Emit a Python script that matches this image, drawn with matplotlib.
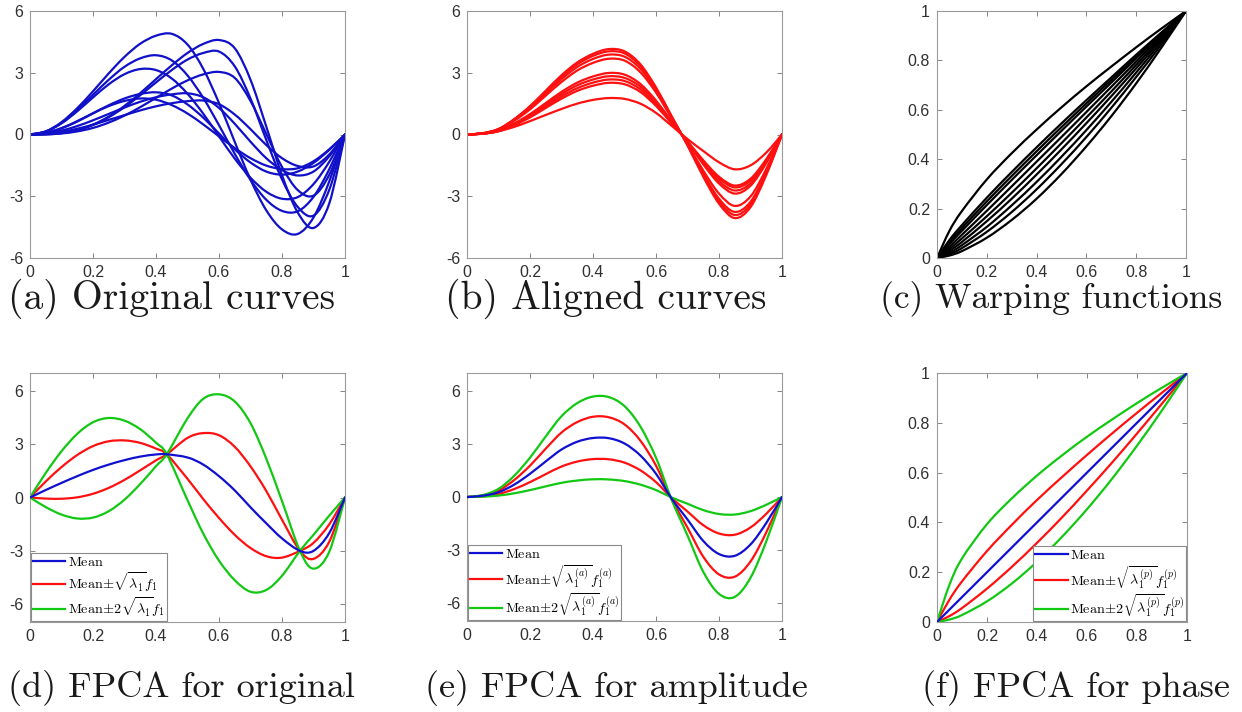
import matplotlib
matplotlib.use("Agg")
import matplotlib.pyplot as plt
from matplotlib.path import Path
from matplotlib.patches import PathPatch

plt.rcParams['mathtext.fontset'] = 'cm'
plt.rcParams['font.family'] = ['Liberation Sans', 'DejaVu Sans']

# ---------------- data ----------------
T21 = [0.00, 0.05, 0.10, 0.15, 0.20, 0.25, 0.30, 0.35, 0.40, 0.45, 0.50,
       0.55, 0.60, 0.65, 0.70, 0.75, 0.80, 0.85, 0.90, 0.95, 1.00]
T12 = [0.0, 0.05, 0.1, 0.2, 0.3, 0.4, 0.5, 0.6, 0.7, 0.8, 0.9, 1.0]
TD = [0.00, 0.05, 0.10, 0.15, 0.20, 0.25, 0.30, 0.35, 0.40, 0.434, 0.50,
      0.55, 0.60, 0.65, 0.70, 0.75, 0.80, 0.857, 0.90, 0.95, 1.00]

# (a) original curves
orig_curves = [
    [0, 0.15, 0.60, 1.28, 2.10, 2.97, 3.77, 4.41, 4.80, 4.89, 4.37, 3.19, 1.53, -0.36, -2.19, -3.68, -4.61, -4.83, -4.03, -2.28, 0],
    [0, 0.15, 0.56, 1.19, 1.93, 2.66, 3.29, 3.70, 3.85, 3.60, 2.87, 1.78, 0.45, -0.94, -2.20, -3.17, -3.71, -3.73, -3.03, -1.69, 0],
    [0, 0.14, 0.54, 1.13, 1.80, 2.44, 2.93, 3.18, 3.13, 2.72, 1.98, 1.01, -0.09, -1.17, -2.10, -2.78, -3.12, -3.04, -2.41, -1.33, 0],
    [0, 0.01, 0.07, 0.22, 0.48, 0.87, 1.39, 2.01, 2.69, 3.36, 3.96, 4.40, 4.59, 4.19, 2.66, 0.39, -1.98, -3.79, -4.54, -3.35, 0],
    [0, 0.01, 0.07, 0.21, 0.46, 0.84, 1.33, 1.91, 2.53, 3.13, 3.64, 3.96, 4.03, 3.31, 1.75, -0.26, -2.18, -3.52, -3.94, -2.69, 0],
    [0, 0.01, 0.05, 0.15, 0.32, 0.58, 0.92, 1.33, 1.78, 2.23, 2.63, 2.92, 3.04, 2.75, 1.63, 0.03, -1.58, -2.70, -2.97, -1.96, 0],
    [0, 0.08, 0.30, 0.63, 1.03, 1.42, 1.75, 1.97, 2.05, 1.90, 1.46, 0.82, 0.05, -0.72, -1.36, -1.80, -1.95, -1.80, -1.38, -0.75, 0],
    [0, 0.05, 0.19, 0.41, 0.69, 1.00, 1.31, 1.59, 1.81, 1.95, 2.00, 1.81, 1.29, 0.52, -0.35, -1.15, -1.73, -1.99, -1.80, -1.06, 0],
    [0, 0.03, 0.13, 0.28, 0.48, 0.71, 0.94, 1.17, 1.37, 1.52, 1.62, 1.65, 1.47, 0.97, 0.26, -0.51, -1.15, -1.53, -1.55, -0.97, 0],
    [0, 0.08, 0.31, 0.65, 1.03, 1.38, 1.63, 1.75, 1.69, 1.43, 1.02, 0.49, -0.09, -0.66, -1.15, -1.51, -1.68, -1.64, -1.30, -0.72, 0],
]

# (b) aligned curves
aligned_curves = [
    [0, 0.06, 0.27, 0.75, 1.38, 2.13, 2.88, 3.50, 3.92, 4.15, 4.04, 3.42, 2.29, 0.88, -0.53, -2.05, -3.36, -4.06, -3.53, -1.97, 0],
    [0, 0.06, 0.26, 0.73, 1.34, 2.07, 2.80, 3.41, 3.82, 4.04, 3.94, 3.33, 2.23, 0.85, -0.51, -1.98, -3.24, -3.91, -3.40, -1.90, 0],
    [0, 0.06, 0.25, 0.70, 1.29, 1.99, 2.69, 3.28, 3.67, 3.88, 3.78, 3.20, 2.15, 0.82, -0.49, -1.90, -3.12, -3.76, -3.27, -1.82, 0],
    [0, 0.06, 0.24, 0.67, 1.22, 1.89, 2.55, 3.11, 3.48, 3.68, 3.59, 3.03, 2.04, 0.78, -0.46, -1.75, -2.87, -3.47, -3.01, -1.68, 0],
    [0, 0.05, 0.20, 0.54, 0.99, 1.53, 2.07, 2.52, 2.82, 2.99, 2.91, 2.46, 1.65, 0.63, -0.38, -1.45, -2.38, -2.87, -2.49, -1.39, 0],
    [0, 0.04, 0.18, 0.51, 0.94, 1.45, 1.96, 2.39, 2.67, 2.83, 2.75, 2.33, 1.56, 0.60, -0.36, -1.38, -2.26, -2.72, -2.37, -1.32, 0],
    [0, 0.04, 0.17, 0.48, 0.88, 1.37, 1.85, 2.25, 2.52, 2.67, 2.60, 2.20, 1.47, 0.56, -0.34, -1.30, -2.13, -2.57, -2.24, -1.25, 0],
    [0, 0.04, 0.16, 0.45, 0.83, 1.29, 1.74, 2.12, 2.37, 2.51, 2.44, 2.07, 1.39, 0.53, -0.33, -1.25, -2.05, -2.48, -2.15, -1.20, 0],
    [0, 0.04, 0.16, 0.37, 0.65, 0.95, 1.24, 1.50, 1.68, 1.77, 1.73, 1.50, 1.05, 0.42, -0.22, -0.80, -1.35, -1.69, -1.50, -0.88, 0],
]

# (c) warping functions
warp_curves = [
    [0, 0.110, 0.190, 0.318, 0.424, 0.520, 0.610, 0.695, 0.775, 0.853, 0.928, 1],
    [0, 0.073, 0.133, 0.244, 0.348, 0.448, 0.545, 0.639, 0.731, 0.823, 0.912, 1],
    [0, 0.064, 0.121, 0.229, 0.332, 0.432, 0.530, 0.626, 0.721, 0.815, 0.908, 1],
    [0, 0.057, 0.110, 0.214, 0.316, 0.416, 0.515, 0.613, 0.710, 0.808, 0.904, 1],
    [0, 0.046, 0.094, 0.191, 0.290, 0.390, 0.490, 0.591, 0.693, 0.795, 0.898, 1],
    [0, 0.037, 0.079, 0.169, 0.264, 0.363, 0.465, 0.569, 0.674, 0.782, 0.890, 1],
    [0, 0.029, 0.065, 0.149, 0.240, 0.338, 0.440, 0.546, 0.655, 0.768, 0.883, 1],
    [0, 0.021, 0.052, 0.126, 0.213, 0.308, 0.410, 0.518, 0.632, 0.751, 0.874, 1],
    [0, 0.015, 0.040, 0.106, 0.186, 0.278, 0.380, 0.490, 0.608, 0.733, 0.863, 1],
    [0, 0.010, 0.028, 0.082, 0.154, 0.240, 0.340, 0.452, 0.574, 0.707, 0.850, 1],
]

# (d) FPCA original
d_mean = [0, 0.42, 0.82, 1.20, 1.55, 1.85, 2.10, 2.30, 2.42, 2.43, 2.25, 1.85, 1.20, 0.40, -0.55, -1.45, -2.30, -3.00, -3.00, -2.00, 0]
d_red_a = [0, 0.90, 1.71, 2.39, 2.89, 3.16, 3.21, 3.07, 2.75, 2.43, 1.05, -0.09, -1.15, -2.10, -2.84, -3.30, -3.38, -3.00, -2.55, -1.51, 0]
d_red_b = [0, -0.06, -0.07, 0.01, 0.21, 0.54, 0.99, 1.53, 2.09, 2.43, 3.35, 3.62, 3.50, 2.85, 1.75, 0.37, -1.25, -3.00, -3.45, -2.49, 0]
d_green_a = [0, 1.38, 2.60, 3.58, 4.23, 4.47, 4.32, 3.84, 3.08, 2.43, -0.15, -2.03, -3.55, -4.65, -5.30, -5.20, -4.40, -3.00, -2.10, -1.02, 0]
d_green_b = [0, -0.54, -0.96, -1.18, -1.13, -0.77, -0.12, 0.76, 1.76, 2.43, 4.45, 5.55, 5.80, 5.40, 4.18, 2.19, -0.20, -3.00, -4.00, -3.05, 0]

# (e) FPCA amplitude
e_mean = [0, 0.07, 0.27, 0.70, 1.31, 2.01, 2.68, 3.12, 3.33, 3.32, 3.02, 2.35, 1.31, -0.10, -1.27, -2.48, -3.22, -3.32, -2.68, -1.47, 0]
e_red_hi = [0, 0.09, 0.36, 0.96, 1.77, 2.73, 3.64, 4.23, 4.53, 4.50, 4.10, 3.19, 1.77, -0.14, -1.73, -3.37, -4.37, -4.50, -3.64, -2.00, 0]
e_red_lo = [0, 0.04, 0.17, 0.45, 0.84, 1.29, 1.72, 2.00, 2.14, 2.13, 1.94, 1.51, 0.84, -0.06, -0.82, -1.59, -2.06, -2.13, -1.72, -0.95, 0]
e_green_hi = [0, 0.11, 0.46, 1.20, 2.22, 3.42, 4.56, 5.30, 5.67, 5.64, 5.13, 3.99, 2.22, -0.17, -2.17, -4.22, -5.47, -5.64, -4.56, -2.51, 0]
e_green_lo = [0, 0.02, 0.08, 0.21, 0.39, 0.60, 0.80, 0.93, 1.00, 0.99, 0.90, 0.70, 0.39, -0.03, -0.38, -0.74, -0.96, -0.99, -0.80, -0.44, 0]

# (f) FPCA phase
f_mean = [0, 0.05, 0.10, 0.20, 0.30, 0.40, 0.50, 0.60, 0.70, 0.80, 0.90, 1.0]
f_red_hi = [0, 0.090, 0.163, 0.285, 0.391, 0.490, 0.582, 0.671, 0.757, 0.840, 0.921, 1.0]
f_red_lo = [0, 0.024, 0.056, 0.134, 0.222, 0.318, 0.420, 0.528, 0.640, 0.757, 0.877, 1.0]
f_green_hi = [0, 0.150, 0.255, 0.393, 0.497, 0.588, 0.669, 0.744, 0.813, 0.879, 0.941, 1.0]
f_green_lo = [0, 0.010, 0.028, 0.083, 0.155, 0.242, 0.342, 0.453, 0.575, 0.708, 0.850, 1.0]

x_ticks = [0, 0.2, 0.4, 0.6, 0.8, 1]
x_tick_labels = ['0', '0.2', '0.4', '0.6', '0.8', '1']
y_ticks_top = [-6, -3, 0, 3, 6]
y_tick_labels_top = ['-6', '-3', '0', '3', '6']
y_ticks_unit = [0, 0.2, 0.4, 0.6, 0.8, 1]
y_tick_labels_unit = ['0', '0.2', '0.4', '0.6', '0.8', '1']

captions = ['(a) Original curves', '(b) Aligned curves', '(c) Warping functions',
            '(d) FPCA for original', '(e) FPCA for amplitude', '(f) FPCA for phase']

legend_d = [r'$\mathrm{Mean}$', r'$\mathrm{Mean}\!\pm\!\sqrt{\lambda_1}f_1$',
            r'$\mathrm{Mean}\!\pm\!2\sqrt{\lambda_1}f_1$']
legend_e = [r'$\mathrm{Mean}$', r'$\mathrm{Mean}\!\pm\!\sqrt{\lambda_1^{(a)}}f_1^{(a)}$',
            r'$\mathrm{Mean}\!\pm\!2\sqrt{\lambda_1^{(a)}}f_1^{(a)}$']
legend_f = [r'$\mathrm{Mean}$', r'$\mathrm{Mean}\!\pm\!\sqrt{\lambda_1^{(p)}}f_1^{(p)}$',
            r'$\mathrm{Mean}\!\pm\!2\sqrt{\lambda_1^{(p)}}f_1^{(p)}$']

BLUE = '#1010d0'
RED = '#ff1010'
GREEN = '#12c812'
BLACK = '#000000'
LW = 1.6

# ---------------- figure ----------------
W, H = 1242, 712
fig = plt.figure(figsize=(W / 100, H / 100), dpi=100)


def ax_at(left, top, right, bottom):
    return fig.add_axes([left / W, 1 - bottom / H, (right - left) / W, (bottom - top) / H])


def style(ax, xlim, ylim, yt, ytl):
    ax.set_xlim(*xlim)
    ax.set_ylim(*ylim)
    ax.set_xticks(x_ticks)
    ax.set_xticklabels(x_tick_labels)
    ax.set_yticks(yt)
    ax.set_yticklabels(ytl)
    ax.tick_params(direction='in', length=3.5, width=0.6, color='#707070',
                   labelsize=11.5, labelcolor='#303030', top=True, right=True, pad=5)
    for s in ax.spines.values():
        s.set_color('#9a9a9a')
        s.set_linewidth(0.8)


def smooth_line(ax, xs, ys, color, lw=LW, label=None, zorder=2):
    """Draw a smooth curve passing through the given points (cubic Bezier segments)."""
    pts = list(zip(xs, ys))
    n = len(pts)
    verts = [pts[0]]
    codes = [Path.MOVETO]
    for i in range(n - 1):
        p0 = pts[max(i - 1, 0)]
        p1 = pts[i]
        p2 = pts[i + 1]
        p3 = pts[min(i + 2, n - 1)]
        c1 = (p1[0] + (p2[0] - p0[0]) / 6.0, p1[1] + (p2[1] - p0[1]) / 6.0)
        c2 = (p2[0] - (p3[0] - p1[0]) / 6.0, p2[1] - (p3[1] - p1[1]) / 6.0)
        verts += [c1, c2, p2]
        codes += [Path.CURVE4] * 3
    ax.add_patch(PathPatch(Path(verts, codes), fill=False, edgecolor=color,
                           lw=lw, joinstyle='round', capstyle='round', zorder=zorder))
    if label is not None:
        ax.plot([], [], color=color, lw=lw, label=label)


axA = ax_at(30, 11, 345, 258)
axB = ax_at(467, 11, 782, 258)
axC = ax_at(937, 11, 1186, 258)
axD = ax_at(30, 373, 345, 622)
axE = ax_at(467, 373, 782, 621)
axF = ax_at(937, 373, 1187, 622)

for c in orig_curves:
    smooth_line(axA, T21, c, '#1010c8')
style(axA, (0, 1), (-6, 6), y_ticks_top, y_tick_labels_top)

for c in aligned_curves:
    smooth_line(axB, T21, c, RED)
style(axB, (0, 1), (-6, 6), y_ticks_top, y_tick_labels_top)

for c in warp_curves:
    smooth_line(axC, T12, c, BLACK)
style(axC, (0, 1), (0, 1), y_ticks_unit, y_tick_labels_unit)

# (d)
smooth_line(axD, TD, d_mean, BLUE, label=legend_d[0], zorder=3)
smooth_line(axD, TD, d_red_a, RED, label=legend_d[1])
smooth_line(axD, TD, d_red_b, RED)
smooth_line(axD, TD, d_green_a, GREEN, label=legend_d[2])
smooth_line(axD, TD, d_green_b, GREEN)
style(axD, (0, 1), (-7, 7), y_ticks_top, y_tick_labels_top)

# (e)
smooth_line(axE, T21, e_mean, BLUE, label=legend_e[0], zorder=3)
smooth_line(axE, T21, e_red_hi, RED, label=legend_e[1])
smooth_line(axE, T21, e_red_lo, RED)
smooth_line(axE, T21, e_green_hi, GREEN, label=legend_e[2])
smooth_line(axE, T21, e_green_lo, GREEN)
style(axE, (0, 1), (-7, 7), y_ticks_top, y_tick_labels_top)

# (f)
smooth_line(axF, T12, f_mean, BLUE, label=legend_f[0], zorder=3)
smooth_line(axF, T12, f_red_hi, RED, label=legend_f[1])
smooth_line(axF, T12, f_red_lo, RED)
smooth_line(axF, T12, f_green_hi, GREEN, label=legend_f[2])
smooth_line(axF, T12, f_green_lo, GREEN)
style(axF, (0, 1), (0, 1), y_ticks_unit, y_tick_labels_unit)

leg_kw = dict(fontsize=10.2, frameon=True, fancybox=False, framealpha=1,
              edgecolor='#8a8a8a', handlelength=2.3, handletextpad=0.15,
              borderpad=0.15, labelspacing=0.12, borderaxespad=0.05)
for ax in (axD, axE):
    lg = ax.legend(loc='lower left', **leg_kw)
    lg.get_frame().set_linewidth(0.8)
lg = axF.legend(loc='lower right', **leg_kw)
lg.get_frame().set_linewidth(0.8)

# captions
cap_pos = [(8, 299, 28.5), (445, 299, 28.5), (880, 299, 25.5),
           (8, 688, 26), (425, 688, 26), (922, 688, 26)]
for (cx, cy, fs), txt in zip(cap_pos, captions):
    fig.text(cx / W, 1 - cy / H, txt, fontfamily='cmr10', fontsize=fs,
             ha='left', va='center', color='#1a1a1a')

fig.savefig('out.png', dpi=100, facecolor='white')
